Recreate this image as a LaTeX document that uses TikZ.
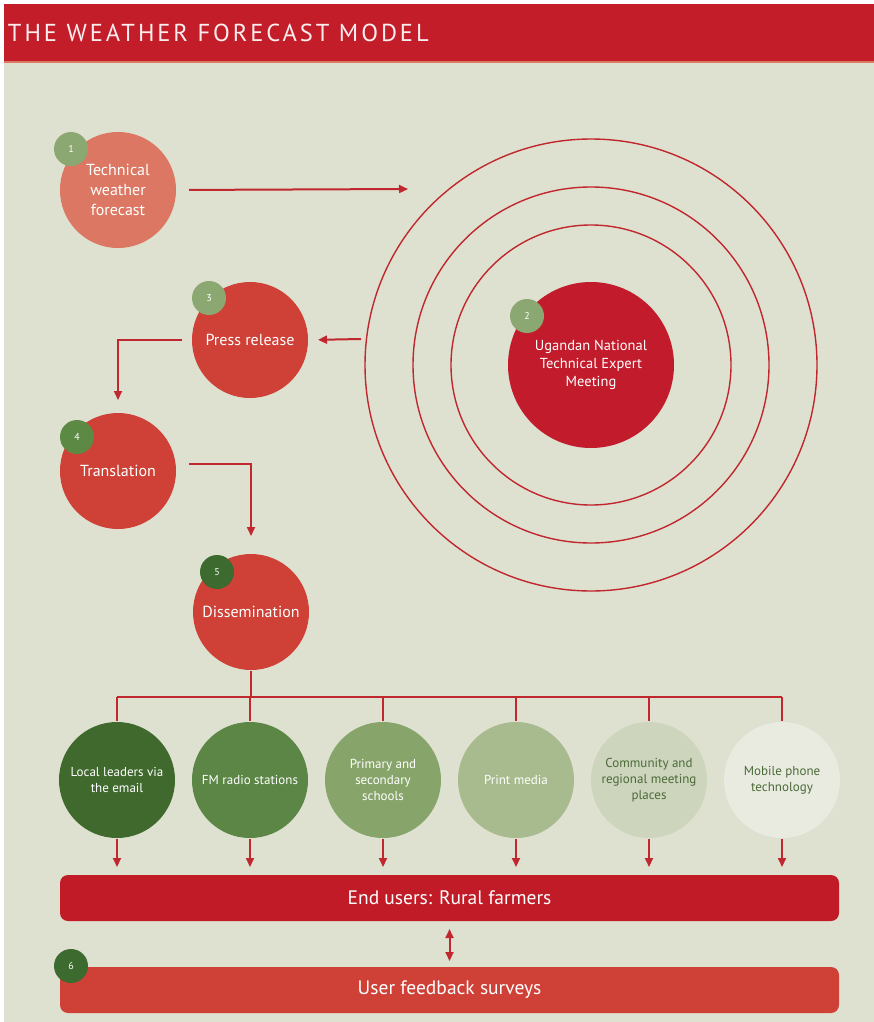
\documentclass[tikz,border=0pt]{standalone}
\usepackage{fontspec}
\setmainfont{PT Sans}
\newfontfamily\titlefont[LetterSpace=12]{PT Sans}
\usetikzlibrary{shapes,arrows,arrows.meta,positioning}
\definecolor{bg}{HTML}{DEE1D0}
\definecolor{headred}{HTML}{C31D2A}
\definecolor{linered}{HTML}{C0272E}
\definecolor{salmon}{HTML}{DB7762}
\definecolor{stagered}{HTML}{CF4037}
\definecolor{expertred}{HTML}{C21B2B}
\definecolor{userred}{HTML}{C11B28}
\definecolor{greenA}{HTML}{8CA872}
\definecolor{greenB}{HTML}{5C8A45}
\definecolor{greenC}{HTML}{3D6A2E}
\definecolor{chA}{HTML}{40692E}
\definecolor{chB}{HTML}{5C8645}
\definecolor{chC}{HTML}{87A56A}
\definecolor{chD}{HTML}{A7BB8E}
\definecolor{chE}{HTML}{CDD5BD}
\definecolor{chF}{HTML}{E9EBE0}
\definecolor{chtext}{HTML}{4B6A38}
\tikzstyle{stage} = [circle, minimum size=116pt, inner sep=0pt, align=center, text=white, font=\fontsize{16}{20}\selectfont]
\tikzstyle{badge} = [circle, minimum size=34pt, inner sep=0pt, text=white, font=\fontsize{10}{10}\selectfont]
\tikzstyle{channel} = [circle, minimum size=116pt, inner sep=0pt, align=center, node distance=133pt, font=\fontsize{13}{16}\selectfont]
\tikzstyle{bar} = [rectangle, rounded corners=8pt, minimum width=779pt, minimum height=46pt, text=white, font=\fontsize{19.5}{21}\selectfont]
\tikzstyle{ring} = [draw=linered, line width=1.4pt]

\begin{document}
\begin{tikzpicture}[x=1pt, y=-1pt, >={Triangle[length=9pt,width=8pt]}, line width=2pt]
    \useasboundingbox (0,0) rectangle (874,1022);
    % Page and title band
    \fill[white] (0,0) rectangle (874,1022);
    \fill[bg] (4,4) rectangle (874,1022);
    \fill[headred] (4,4) rectangle (874,61);
    \fill[salmon] (4,61) rectangle (874,63);
    \node[anchor=west, inner sep=0pt, text=white!92!headred, font=\titlefont\fontsize{24.5}{26}\selectfont] (title) at (7,33) {THE WEATHER FORECAST MODEL};

    % Rings around the expert meeting
    \foreach \r in {140,178,226}
        \draw[ring] (591,365) circle (\r pt);

    % Drawing stages
    \node [stage, fill=salmon] (tech) at (118,190) {Technical\\weather\\forecast};
    \node [stage, fill=expertred, minimum size=166pt, font=\fontsize{14.5}{18}\selectfont] (expert) at (591,365) {Ugandan National\\Technical Expert\\Meeting};
    \node [stage, fill=stagered] (press) at (250,340) {Press release};
    \node [stage, fill=stagered] (transl) at (118,471) {Translation};
    \node [stage, fill=stagered] (dissem) at (251,612) {Dissemination};

    % Step numbers
    \node [badge, fill=greenA] (n1) at (71,149) {1};
    \node [badge, fill=greenA] (n2) at (527,316) {2};
    \node [badge, fill=greenA] (n3) at (209,298) {3};
    \node [badge, fill=greenB] (n4) at (77,437) {4};
    \node [badge, fill=greenC] (n5) at (217,572) {5};

    % Channels
    \node [channel, fill=chA, text=white] (ch1) at (117,780) {Local leaders via\\the email};
    \node [channel, fill=chB, text=white, right of=ch1] (ch2) {FM radio stations};
    \node [channel, fill=chC, text=white, right of=ch2] (ch3) {Primary and\\secondary\\schools};
    \node [channel, fill=chD, text=white, right of=ch3] (ch4) {Print media};
    \node [channel, fill=chE, text=chtext, right of=ch4] (ch5) {Community and\\regional meeting\\places};
    \node [channel, fill=chF, text=chtext, right of=ch5] (ch6) {Mobile phone\\technology};

    % End users and feedback
    \node [bar, fill=userred] (users) at (449.5,898) {End users: Rural farmers};
    \node [bar, fill=stagered] (feedback) at (449.5,990) {User feedback surveys};
    \node [badge, fill=greenC] (n6) at (71,966) {6};

    % Connectors
    \coordinate (ringin) at (408,189);
    \coordinate (ringout) at (361,339);
    \coordinate (bus) at (251,697);
    \draw [linered, ->, shorten <=12pt] (tech.east) -- (ringin);
    \draw [linered, ->, shorten >=9pt] (ringout) -- (press.east);
    \draw [linered, ->, shorten <=9pt, shorten >=12pt] (press.west) -| (transl.north);
    \draw [linered, ->, shorten <=12pt, shorten >=17pt] ([yshift=7pt]transl.east) -| (dissem.north);
    \draw [linered] (dissem.south) -- (bus);
    \draw [linered] (ch1.north |- bus) -- (ch6.north |- bus);
    \foreach \c in {ch1,ch2,ch3,ch4,ch5,ch6} {
        \draw [linered] (\c.north |- bus) -- (\c.north);
        \draw [linered, ->, shorten >=7pt] (\c.south) -- (\c.south |- users.north);
    }
    \draw [linered, <->, shorten <=7pt, shorten >=5pt] (users.south) -- (feedback.north);
\end{tikzpicture}
\end{document}
